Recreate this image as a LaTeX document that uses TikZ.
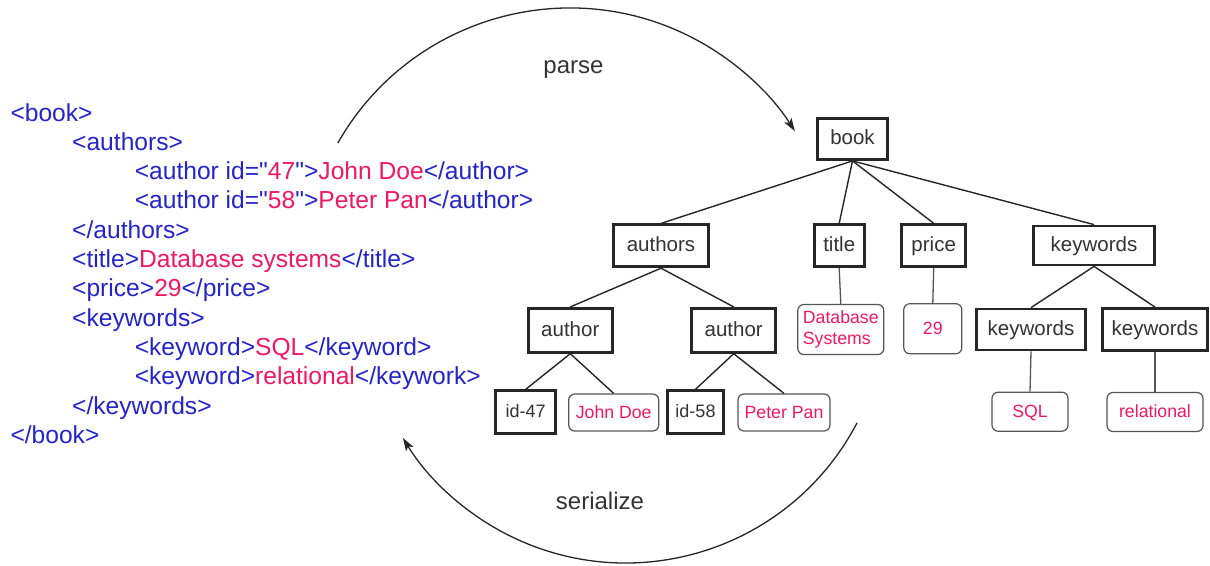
\documentclass[tikz,border=0pt]{standalone}
\usepackage{fontspec}
\setmainfont{Liberation Sans}[Ligatures=TeXOff]
\usetikzlibrary{arrows.meta}

\definecolor{tagblue}{RGB}{36,36,204}
\definecolor{valpink}{RGB}{240,24,96}
\definecolor{ink}{RGB}{38,38,38}
\definecolor{labelgray}{RGB}{51,51,51}
\definecolor{wiregray}{RGB}{85,85,85}

% markup helpers for the XML listing
\newcommand{\vl}[1]{\textcolor{valpink}{#1}}

\begin{document}
\begin{tikzpicture}[x=1pt,y=1pt,
  xml/.style={anchor=base west, inner sep=0pt, text=tagblue,
    font=\fontsize{24.6}{29}\selectfont},
  elem/.style={draw=ink, line width=2.8pt, text=labelgray, inner sep=0pt,
    font=\fontsize{20.5}{24}\selectfont, text height=14.8pt, text depth=3.3pt},
  idbox/.style={elem, font=\fontsize{18}{22}\selectfont,
    text height=13pt, text depth=2.8pt},
  valbase/.style={draw=wiregray, line width=1.2pt, rounded corners=6pt,
    text=valpink, inner sep=0pt, font=\fontsize{17.7}{20.5}\selectfont},
  val/.style={valbase, text height=12.7pt, text depth=1.6pt},
  edge/.style={draw=ink, line width=1.4pt},
  valedge/.style={draw=wiregray, line width=1.3pt},
  flow/.style={draw=ink, line width=1.3pt,
    -{Stealth[length=13pt,width=8.5pt,inset=3pt]}},
  verb/.style={anchor=base, inner sep=0pt, text=labelgray,
    font=\fontsize{24}{28}\selectfont}
]
\fill[white] (0,0) rectangle (1210,-565);
\useasboundingbox (0,0) rectangle (1210,-565);

% ---- XML source ----
\node[xml] (x1)  at (10.3,-121)    {<book>};
\node[xml] (x2)  at (72,-150.3)    {<authors>};
\node[xml] (x3)  at (134.6,-179.6) {<author id="\vl{47}">\vl{John Doe}</author>};
\node[xml] (x4)  at (134.6,-208.9) {<author id="\vl{58}">\vl{Peter Pan}</author>};
\node[xml] (x5)  at (72,-238.2)    {</authors>};
\node[xml] (x6)  at (72,-267.5)    {<title>\vl{Database systems}</title>};
\node[xml] (x7)  at (72,-296.8)    {<price>\vl{29}</price>};
\node[xml] (x8)  at (72,-326.1)    {<keywords>};
\node[xml] (x9)  at (134.6,-355.4) {<keyword>\vl{SQL}</keyword>};
\node[xml] (x10) at (134.6,-384.7) {<keyword>\vl{relational}</keywork>};
\node[xml] (x11) at (72,-414)      {</keywords>};
\node[xml] (x12) at (10.3,-443.3)  {</book>};

% ---- document tree ----
\node[elem, minimum width=70pt, minimum height=41pt]  (book)  at (852.5,-139)   {book};
\node[elem, minimum width=95pt, minimum height=42pt]  (auths) at (661,-245.8)   {authors};
\node[elem, minimum width=50pt, minimum height=42pt]  (title) at (839.2,-245.7) {title};
\node[elem, minimum width=64pt, minimum height=42pt]  (price) at (933.7,-245.7) {price};
\node[elem, minimum width=121pt, minimum height=39pt] (kws)   at (1094,-245.5)  {keywords};

\node[elem, minimum width=84pt, minimum height=44pt]  (a1) at (570.3,-330.3) {author};
\node[elem, minimum width=84pt, minimum height=44pt]  (a2) at (733.7,-330.3) {author};
\node[valbase, align=left, minimum width=86pt, minimum height=50pt] (db) at (840.8,-329.5) {Database\\Systems};
\node[val, minimum width=58pt, minimum height=50pt]   (v29) at (932.8,-328.7) {29};
\node[elem, minimum width=109pt, minimum height=41pt] (k1) at (1031,-329.5) {keywords};
\node[elem, minimum width=105pt, minimum height=42pt] (k2) at (1155,-329.5) {keywords};

\node[idbox, minimum width=60pt, minimum height=43pt] (id47) at (525.7,-412.2) {id-47};
\node[val, minimum width=90pt, minimum height=37pt]   (jd)   at (613.7,-412.5) {John Doe};
\node[idbox, minimum width=56pt, minimum height=43pt] (id58) at (695.5,-412.2) {id-58};
\node[val, minimum width=92pt, minimum height=37pt]   (pp)   at (784,-412.5)   {Peter Pan};
\node[val, minimum width=76pt, minimum height=39pt]   (sql)  at (1030,-411.7)  {SQL};
\node[val, minimum width=96pt, minimum height=39pt]   (rel)  at (1155,-412)    {relational};

% ---- tree edges ----
\draw[edge] (book.south) -- (auths.north);
\draw[edge] (book.south) -- (title.north);
\draw[edge] (book.south) -- (price.north);
\draw[edge] (book.south) -- (kws.north);
\draw[edge] (auths.south) -- (a1.north);
\draw[edge] (auths.south) -- (a2.north);
\draw[edge] (a1.south) -- (id47.north);
\draw[edge] (a1.south) -- (jd.north);
\draw[edge] (a2.south) -- (id58.north);
\draw[edge] (a2.south) -- (pp.north);
\draw[edge] (kws.south) -- (k1.north);
\draw[edge] (kws.south) -- (k2.north);
\draw[valedge] (title.south) -- (db.north);
\draw[valedge] (price.south) -- (v29.north);
\draw[valedge] (k1.south) -- (sql.north);
\draw[valedge] (k2.south) -- (rel.north);

% ---- parse / serialize arcs ----
\coordinate (parseStart) at (337.8,-143.1);
\coordinate (serStart) at (857,-422.9);
\draw[flow] (parseStart) arc[start angle=150.4, end angle=32.6, radius=267];
\draw[flow] (serStart) arc[start angle=-27.6, end angle=-148.6, radius=261];
\node[verb] (parse) at (573.5,-73.3) {parse};
\node[verb] (ser) at (600,-509.3) {serialize};
\end{tikzpicture}
\end{document}
